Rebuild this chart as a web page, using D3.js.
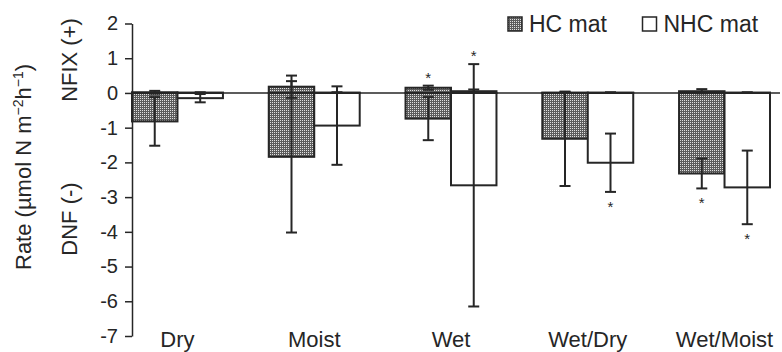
<!DOCTYPE html>
<html>
<head>
<meta charset="utf-8">
<style>
body { margin: 0; background: #fff; }
svg { font-family: "Liberation Sans", Arial, sans-serif; }
</style>
</head>
<body>
<svg width="782" height="352"></svg>
<script src="https://cdn.jsdelivr.net/npm/d3@7"></script>
<script>

// data
var categories = ["Dry", "Moist", "Wet", "Wet/Dry", "Wet/Moist"];
var mats = ["HC mat", "NHC mat"];

var hcNfix     = [0.02, 0.18, 0.15, 0.01, 0.05];
var hcNfixErr  = [0.04, 0.32, 0.06, 0.01, 0.06];
var hcDnf      = [-0.82, -1.84, -0.74, -1.32, -2.32];
var hcDnfErr   = [0.70, 2.18, 0.62, 1.36, 0.43];

var nhcNfix    = [0.01, 0.01, 0.05, 0.01, 0.01];
var nhcNfixErr = [0.01, 0.01, 0.05, 0.01, 0.01];
var nhcDnf     = [-0.15, -0.94, -2.66, -2.01, -2.72];
var nhcDnfErr  = [0.12, 1.13, 3.49, 0.84, 1.06];

// significance stars ("top" = above highest bar end, "bottom" = below lowest)
var hcStar  = ["", "", "top", "", "bottom"];
var nhcStar = ["", "", "top", "bottom", "bottom"];

var yTicks = [2, 1, 0, -1, -2, -3, -4, -5, -6, -7];

var svg = d3.select("svg");
var ink = "#262626";

var x0 = d3.scaleBand().domain(categories).range([132, 770])
    .paddingInner(0.335).paddingOuter(0).align(0);
var x1 = d3.scaleBand().domain(mats).range([0, x0.bandwidth()]);
var y = d3.scaleLinear().domain([-7, 2]).range([336, 23.5]);

// stipple pattern for HC mat
var defs = svg.append("defs");
var pat = defs.append("pattern").attr("id", "dots")
    .attr("width", 2).attr("height", 2).attr("patternUnits", "userSpaceOnUse");
pat.append("rect").attr("width", 2).attr("height", 2).attr("fill", "#5c5c5c");
pat.append("rect").attr("width", 1).attr("height", 1).attr("fill", "#e0e0e0");

// build rows
var rows = [];
categories.forEach(function(c, i) {
  rows.push({cat: c, mat: "HC mat", nfix: hcNfix[i], nfixErr: hcNfixErr[i], dnf: hcDnf[i], dnfErr: hcDnfErr[i], star: hcStar[i]});
  rows.push({cat: c, mat: "NHC mat", nfix: nhcNfix[i], nfixErr: nhcNfixErr[i], dnf: nhcDnf[i], dnfErr: nhcDnfErr[i], star: nhcStar[i]});
});
function fill(d) { return d.mat == "HC mat" ? "url(#dots)" : "#fff"; }
function bx(d) { return x0(d.cat) + x1(d.mat); }
function cx(d) { return bx(d) + x1.bandwidth() / 2; }

var g = svg.append("g");

// DNF bars (negative)
g.selectAll(".dnf").data(rows).enter().append("rect")
  .attr("class", "dnf")
  .attr("x", bx).attr("width", x1.bandwidth())
  .attr("y", y(0)).attr("height", function(d) { return y(d.dnf) - y(0); })
  .attr("fill", fill).attr("stroke", ink).attr("stroke-width", 2);

// NFIX bars (positive)
g.selectAll(".nfix").data(rows).enter().append("rect")
  .attr("class", "nfix")
  .attr("x", bx).attr("width", x1.bandwidth())
  .attr("y", function(d) { return y(d.nfix); })
  .attr("height", function(d) { return y(0) - y(d.nfix); })
  .attr("fill", fill).attr("stroke", ink).attr("stroke-width", 2);

// zero line
svg.append("line")
  .attr("x1", 132).attr("x2", 780).attr("y1", y(0)).attr("y2", y(0))
  .attr("stroke", ink).attr("stroke-width", 1.5);

// error bars
function errBar(val, err) {
  var eg = g.append("g").selectAll("g").data(rows).enter().append("g")
    .attr("stroke", ink).attr("stroke-width", 2);
  eg.append("line")
    .attr("x1", cx).attr("x2", cx)
    .attr("y1", function(d) { return y(d[val] + d[err]); })
    .attr("y2", function(d) { return y(d[val] - d[err]); });
  [1, -1].forEach(function(s) {
    eg.append("line")
      .attr("x1", function(d) { return cx(d) - 5.5; })
      .attr("x2", function(d) { return cx(d) + 5.5; })
      .attr("y1", function(d) { return y(d[val] + s * d[err]); })
      .attr("y2", function(d) { return y(d[val] + s * d[err]); });
  });
}
errBar("dnf", "dnfErr");
errBar("nfix", "nfixErr");

// stars
g.selectAll(".star").data(rows.filter(function(d) { return d.star; })).enter().append("text")
  .attr("class", "star")
  .attr("x", cx)
  .attr("y", function(d) {
    if (d.star == "top") return y(Math.max(d.nfix + d.nfixErr, d.dnf + d.dnfErr)) - 3;
    return y(Math.min(d.nfix - d.nfixErr, d.dnf - d.dnfErr)) + 20;
  })
  .attr("text-anchor", "middle").attr("font-size", 15).attr("fill", ink)
  .text("*");

// y axis
var yAxis = svg.append("g").attr("transform", "translate(132,0)")
  .call(d3.axisLeft(y).tickValues(yTicks).tickSize(7).tickSizeOuter(0).tickPadding(7)
    .tickFormat(function(d) { return String(d); }));
yAxis.select(".domain").attr("stroke", ink).attr("stroke-width", 1.5);
yAxis.selectAll(".tick line").attr("stroke", ink).attr("stroke-width", 1.5);
yAxis.selectAll(".tick text").attr("font-size", 20).attr("fill", ink)
  .attr("font-family", "Liberation Sans, Arial, sans-serif");

// category labels
svg.selectAll(".cat").data(categories).enter().append("text")
  .attr("class", "cat")
  .attr("x", function(d) { return x0(d) + x0.bandwidth() / 2; })
  .attr("y", 346.5)
  .attr("text-anchor", "middle").attr("font-size", 22).attr("fill", ink)
  .text(function(d) { return d; });

// axis titles
var t = svg.append("text").attr("transform", "translate(31,167) rotate(-90)")
  .attr("text-anchor", "middle").attr("font-size", 22).attr("fill", ink);
t.append("tspan").text("Rate (\u00b5mol N m");
t.append("tspan").attr("dy", -8).attr("font-size", 14).text("\u22122");
t.append("tspan").attr("dy", 8).text("h");
t.append("tspan").attr("dy", -8).attr("font-size", 14).text("\u22121");
t.append("tspan").attr("dy", 8).text(")");

svg.append("text").attr("transform", "translate(77,60) rotate(-90)")
  .attr("text-anchor", "middle").attr("font-size", 22).attr("fill", ink).text("NFIX (+)");
svg.append("text").attr("transform", "translate(77,219) rotate(-90)")
  .attr("text-anchor", "middle").attr("font-size", 22).attr("fill", ink).text("DNF (-)");

// legend
var leg = svg.selectAll(".leg").data(mats).enter().append("g")
  .attr("class", "leg")
  .attr("transform", function(d, i) { return "translate(" + (508 + i * 134.5) + ",17)"; });
leg.append("rect").attr("width", 14).attr("height", 14)
  .attr("fill", function(d) { return d == "HC mat" ? "url(#dots)" : "#fff"; })
  .attr("stroke", ink).attr("stroke-width", 1.5);
leg.append("text").attr("x", 21).attr("y", 15)
  .attr("font-size", 23).attr("fill", ink).text(function(d) { return d; });

</script>
</body>
</html>
